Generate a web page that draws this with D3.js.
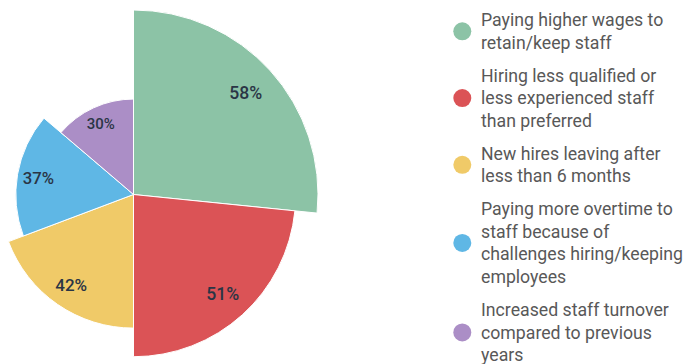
<!DOCTYPE html>
<html>
<head>
<meta charset="utf-8">
<script src="https://cdn.jsdelivr.net/npm/d3@7"></script>
<style>
  html, body { margin: 0; padding: 0; background: #fff; }
  svg { display: block; }
</style>
</head>
<body>
<svg id="chart" width="686" height="364"></svg>
<script>
// Staffing challenges, share of respondents (%)
const categories = [
  ["Paying higher wages to", "retain/keep staff"],
  ["Hiring less qualified or", "less experienced staff", "than preferred"],
  ["New hires leaving after", "less than 6 months"],
  ["Paying more overtime to", "staff because of", "challenges hiring/keeping", "employees"],
  ["Increased staff turnover", "compared to previous", "years"]
];
const values = [58, 51, 42, 37, 30];
const colors = ["#8cc3a6", "#db5356", "#f0ca68", "#5fb7e5", "#ab8ec6"];

const svg = d3.select("#chart");
const cx = 133.5, cy = 194.5;

// slice angle and radius both follow the value
const rScale = d3.scaleLinear().domain([0, d3.max(values)]).range([0, 184.5]);
const pie = d3.pie().sort(null).value(d => d);
const arcs = pie(values);
// value labels shrink a little on the smaller slices
const labelSize = d3.scaleLinear().domain([30, 37, 51]).range([15, 16.7, 17.6]).clamp(true);

const g = svg.append("g").attr("transform", `translate(${cx},${cy})`);

g.selectAll("path.slice")
  .data(arcs)
  .join("path")
  .attr("class", "slice")
  .attr("d", d => d3.arc().innerRadius(0).outerRadius(rScale(d.data))(d))
  .attr("fill", (d, i) => colors[i])
  .attr("stroke", "#fff")
  .attr("stroke-width", 1);

g.selectAll("text.val")
  .data(arcs)
  .join("text")
  .attr("class", "val")
  .attr("transform", d => {
    const a = (d.startAngle + d.endAngle) / 2;
    const r = rScale(d.data) * 0.82;
    return `translate(${r * Math.sin(a)},${-r * Math.cos(a)})`;
  })
  .attr("text-anchor", "middle")
  .attr("dy", "0.36em")
  .attr("font-family", "Roboto, sans-serif")
  .attr("font-weight", 500)
  .attr("font-size", d => labelSize(d.data))
  .attr("fill", "#2a3545")
  .text(d => d.data + "%");

// legend
const lineH = 22.7, blockGap = 10;
const legend = svg.append("g");
let y = 20;
categories.forEach((lines, i) => {
  const top = y;
  const item = legend.append("g");
  lines.forEach((ln, j) => {
    item.append("text")
      .attr("x", 481)
      .attr("y", top + j * lineH)
      .attr("dy", "0.35em")
      .attr("font-family", "Roboto, sans-serif")
      .attr("font-size", 17.7)
      .attr("fill", "#585858")
      .text(ln);
  });
  const mid = top + (lines.length - 1) * lineH / 2;
  item.append("circle")
    .attr("cx", 462.3)
    .attr("cy", mid)
    .attr("r", 9)
    .attr("fill", colors[i]);
  y = top + (lines.length - 1) * lineH + lineH + blockGap;
});
</script>
</body>
</html>
